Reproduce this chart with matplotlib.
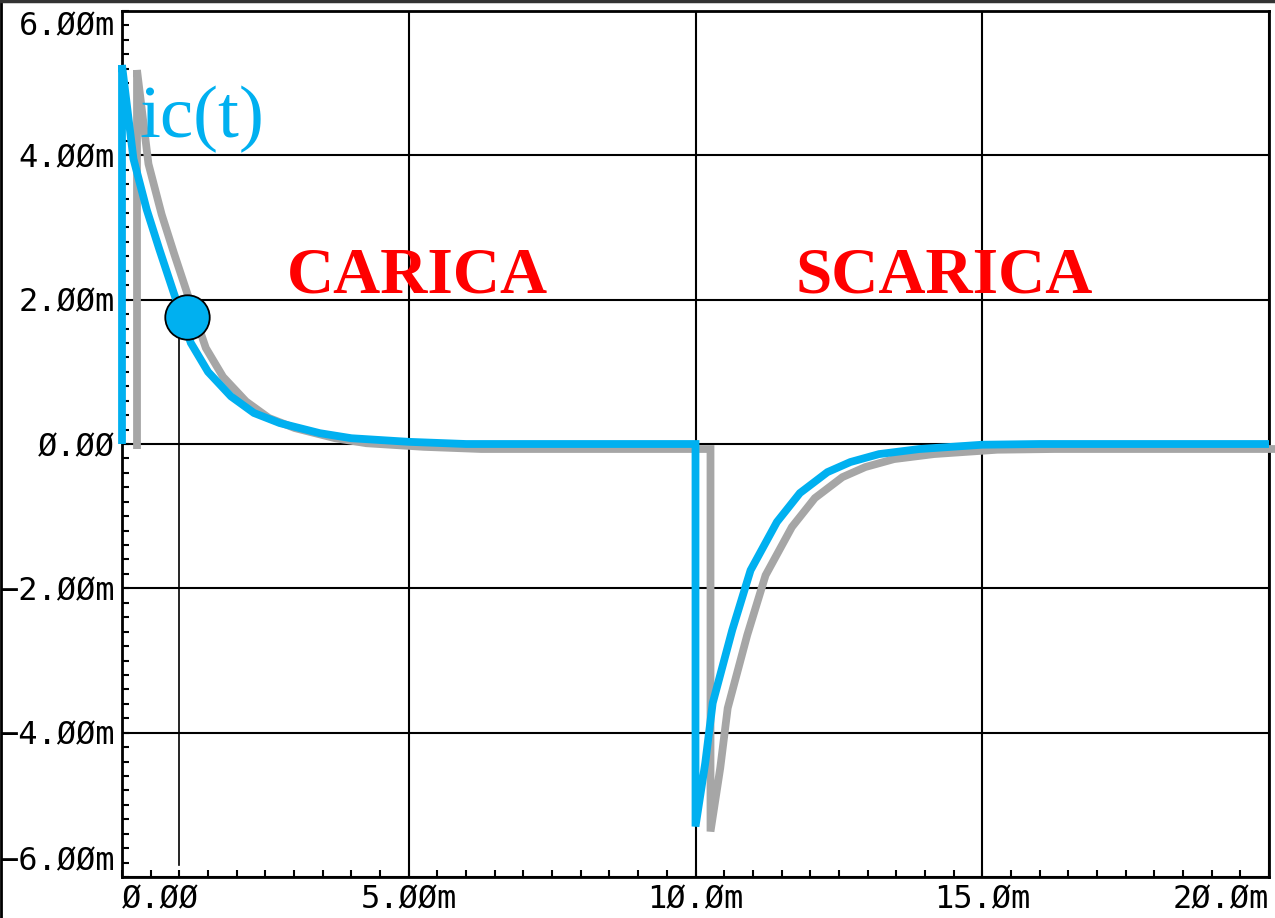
import numpy as np
import matplotlib
matplotlib.use('Agg')
import matplotlib.pyplot as plt
import matplotlib.patheffects as pe
from matplotlib.lines import Line2D
from matplotlib.ticker import MultipleLocator

# tempo (ms) e corrente ic(t) (mA)
t_carica = [0.0, 0.0, 0.1, 0.2, 0.43, 0.65, 0.9, 1.2, 1.5, 1.9, 2.3, 2.75, 3.45, 4.0, 5.0, 6.0, 10.0]
i_carica = [0.0, 5.25, 4.6, 3.95, 3.25, 2.7, 2.1, 1.4, 1.0, 0.66, 0.43, 0.29, 0.15, 0.08, 0.03, 0.0, 0.0]
t_scarica = [10.0, 10.0, 10.17, 10.3, 10.64, 10.96, 11.42, 11.82, 12.3, 12.7, 13.2, 13.9, 15.0, 16.0, 20.0]
i_scarica = [0.0, -5.3, -4.42, -3.59, -2.58, -1.75, -1.08, -0.68, -0.39, -0.25, -0.14, -0.07, -0.01, 0.0, 0.0]

# cursore
t_cursore = 1.13
i_cursore = 1.76
t_riga = 1.0
i_riga_fondo = -5.83

xticks = [0, 5, 10, 15, 20]
xlabels = ['Ø.ØØ', '5.ØØm', '1Ø.Øm', '15.Øm', '2Ø.Øm']
yticks = [-6, -4, -2, 0, 2, 4, 6]
ylabels = ['−6.ØØm', '−4.ØØm', '−2.ØØm', 'Ø.ØØ', '2.ØØm', '4.ØØm', '6.ØØm']

blu = '#00B0F0'
grigio = '#A6A6A6'

fig = plt.figure(figsize=(12.75, 9.18), dpi=100)
ax = fig.add_axes([122/1275, 1-877/918, (1269-122)/1275, (877-11)/918])

t = t_carica + t_scarica
i = i_carica + i_scarica
ax.plot(t, i, color=blu, lw=5.6, solid_joinstyle='miter', solid_capstyle='butt', zorder=3,
        clip_on=False,
        path_effects=[pe.SimpleLineShadow(offset=(10.8, -3.6), shadow_color=grigio, alpha=1.0),
                      pe.Normal()])

ax.plot([t_riga, t_riga], [i_cursore, i_riga_fondo], color='black', lw=1.2, zorder=4)
ax.plot([t_cursore], [i_cursore], 'o', ms=32, mfc=blu, mec='black', mew=1.3, zorder=5)

ax.text(0.3, 4.25, 'ic(t)', color=blu, fontsize=54, family='Liberation Serif',
        va='baseline', ha='left', zorder=6)
ax.text(5.15, 2.1, 'CARICA', color='#FF0000', fontsize=47, family='Liberation Serif',
        fontweight='bold', va='baseline', ha='center')
ax.text(14.34, 2.1, 'SCARICA', color='#FF0000', fontsize=47, family='Liberation Serif',
        fontweight='bold', va='baseline', ha='center')

ax.set_xlim(0, 20)
ax.set_ylim(-6, 6)
ax.set_xticks(xticks)
ax.set_xticklabels(xlabels, family='DejaVu Sans Mono', fontsize=23)
ax.set_yticks(yticks)
ax.set_yticklabels(ylabels, family='DejaVu Sans Mono', fontsize=23)
ax.xaxis.set_minor_locator(MultipleLocator(0.5))
ax.yaxis.set_minor_locator(MultipleLocator(0.2))
ax.tick_params(which='both', direction='in', length=5, width=1.5, color='black',
               top=False, right=False)
ax.tick_params(axis='y', which='major', pad=5)
ax.tick_params(axis='x', which='major', pad=5)

xl = ax.get_xticklabels()
xl[0].set_ha('left')
xl[-1].set_ha('right')
yl = ax.get_yticklabels()
yl[0].set_va('bottom')
yl[-1].set_va('top')

ax.grid(True, which='major', color='black', lw=1.5)
ax.set_axisbelow(True)
for s in ax.spines.values():
    s.set_linewidth(2)
    s.set_color('black')

# bordo della figura
fig.add_artist(Line2D([0.001, 0.001], [0, 1], transform=fig.transFigure, color='black', lw=2))
fig.add_artist(Line2D([0, 1], [0.999, 0.999], transform=fig.transFigure, color='#333333', lw=2.5))

fig.savefig('out.png', dpi=100)
